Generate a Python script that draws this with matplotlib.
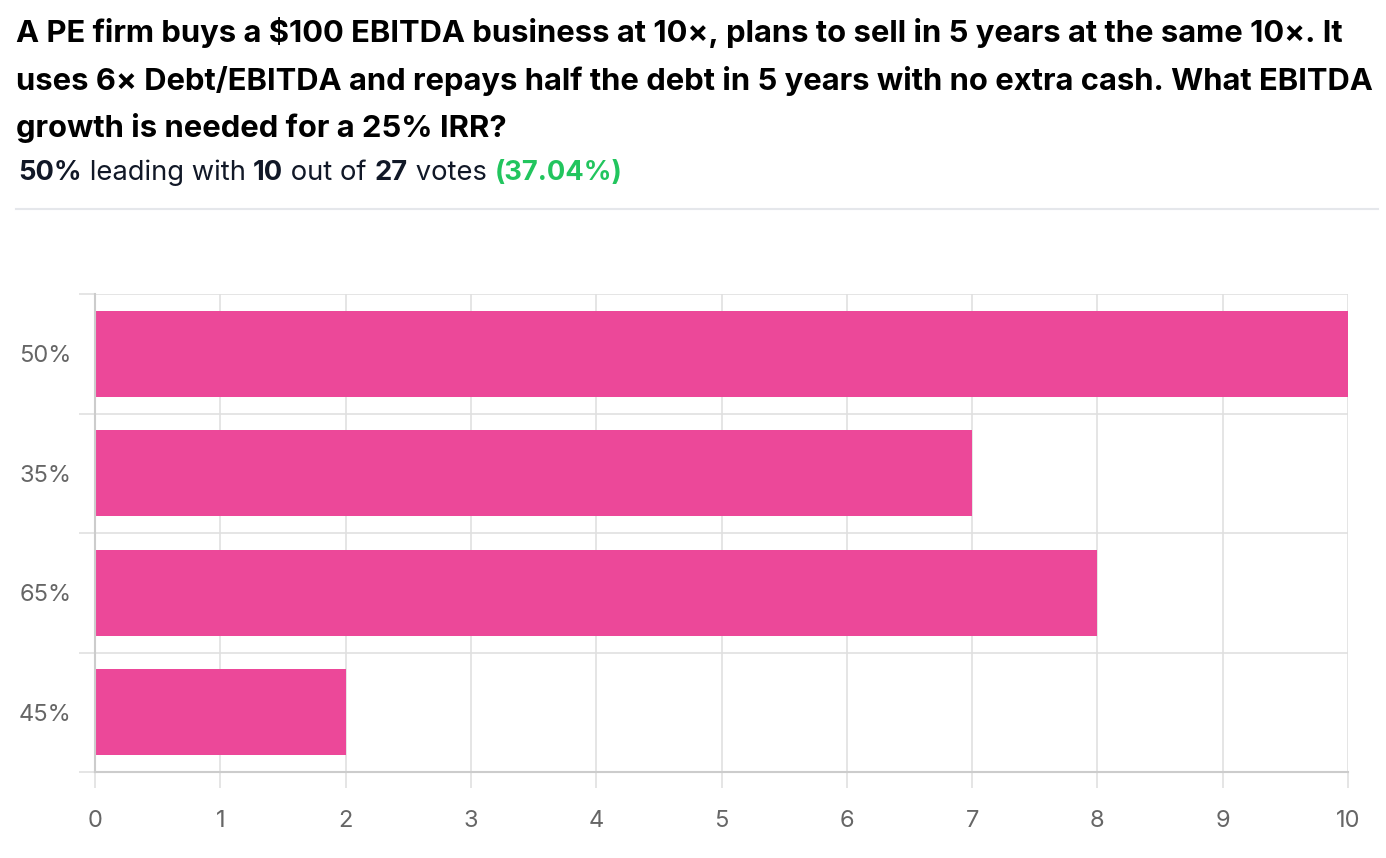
import matplotlib
matplotlib.use("Agg")
import matplotlib.pyplot as plt

# poll data
options = ["50%", "35%", "65%", "45%"]
votes = [10, 7, 8, 2]
total_votes = 27
title_lines = [
    "A PE firm buys a $100 EBITDA business at 10×, plans to sell in 5 years at the same 10×. It",
    "uses 6× Debt/EBITDA and repays half the debt in 5 years with no extra cash. What EBITDA",
    "growth is needed for a 25% IRR?",
]

BAR = "#EC4899"
GRID = "#E0E0E0"
TICK = "#666666"
DARK = "#111827"
GREEN = "#22C55E"

plt.rcParams["font.family"] = ["Inter", "DejaVu Sans"]

W, H = 1386, 858
fig = plt.figure(figsize=(W / 100, H / 100), dpi=100)

# title
for i, line in enumerate(title_lines):
    fig.text(16 / W, 1 - (33 + i * 47.5) / H, line, fontsize=22.3, fontweight="bold",
             color="black", va="center", ha="left")

# subtitle with mixed weights
lead = max(range(len(votes)), key=lambda i: votes[i])
pieces = [
    (options[lead], "bold", DARK),
    (" leading with ", "normal", DARK),
    (str(votes[lead]), "bold", DARK),
    (" out of ", "normal", DARK),
    (str(total_votes), "bold", DARK),
    (" votes ", "normal", DARK),
    (f"({votes[lead] / total_votes * 100:.2f}%)", "bold", GREEN),
]
renderer = fig.canvas.get_renderer()
x = 18
for txt, wt, col in pieces:
    t = fig.text(x / W, 1 - 173 / H, txt, fontsize=19.7, fontweight=wt, color=col,
                 va="center", ha="left")
    bb = t.get_window_extent(renderer=renderer)
    x += bb.width

# separator
fig.add_artist(plt.Line2D([16 / W, 1378 / W], [1 - 209 / H, 1 - 209 / H],
                          color="#E5E7EB", lw=1.5))

ax = fig.add_axes([95 / W, 1 - 772 / H, (1348 - 95) / W, (772 - 294) / H])
y = list(range(len(options)))
ax.barh(y, votes, height=0.72, color=BAR, zorder=2)
ax.set_ylim(len(options) - 0.5, -0.5)
ax.set_xlim(0, 10)
ax.set_xticks(range(0, 11))
ax.set_yticks(y)
ax.set_yticklabels(options)
ax.set_yticks([i - 0.5 for i in range(len(options) + 1)], minor=True)
ax.grid(axis="x", color=GRID, lw=1.2, zorder=0)
ax.grid(axis="y", which="minor", color=GRID, lw=1.2, zorder=0)
ax.tick_params(axis="y", which="major", length=0, pad=17, labelsize=17, labelcolor=TICK)
ax.tick_params(axis="y", which="minor", length=11.5, color=GRID, width=1.2)
ax.tick_params(axis="x", length=11.5, color=GRID, width=1.2, pad=16, labelsize=17,
               labelcolor=TICK)
for s in ["top", "right"]:
    ax.spines[s].set_visible(False)
ax.spines["left"].set_color("#CCCCCC")
ax.spines["bottom"].set_color("#CCCCCC")
ax.spines["left"].set_linewidth(1.5)
ax.spines["bottom"].set_linewidth(1.5)

fig.savefig("out.png", dpi=100)
